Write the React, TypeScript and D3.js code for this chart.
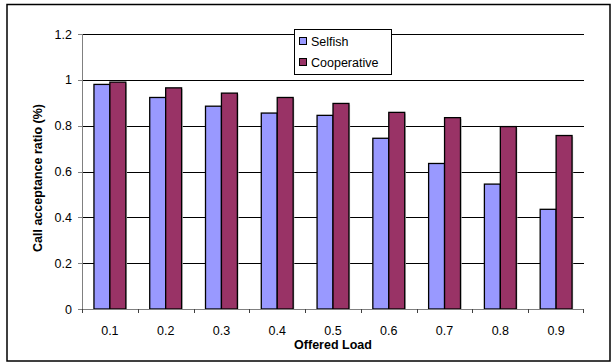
import React from "react";
import * as d3 from "d3";

const loads = ["0.1", "0.2", "0.3", "0.4", "0.5", "0.6", "0.7", "0.8", "0.9"];
const selfish = [0.98, 0.923, 0.885, 0.855, 0.845, 0.745, 0.635, 0.545, 0.435];
const cooperative = [0.99, 0.965, 0.942, 0.923, 0.897, 0.858, 0.835, 0.796, 0.757];
const yTicks = [0, 0.2, 0.4, 0.6, 0.8, 1, 1.2];
const seriesNames = ["Selfish", "Cooperative"];
const seriesColors = ["#9999FF", "#993366"];

const W = 613;
const H = 363;
const left = 82;
const right = 584;
const top = 34;
const bottom = 309;
const font = "'Liberation Sans', Arial, sans-serif";

export default function App() {
  const x = d3.scaleBand<string>().domain(loads).range([left, right]).paddingInner(0).paddingOuter(0);
  const inner = d3.scaleBand<string>().domain(seriesNames).range([0, x.bandwidth()]).paddingInner(0).paddingOuter(0.75);
  const y = d3.scaleLinear().domain([0, 1.2]).range([bottom, top]);
  const series = [selfish, cooperative];

  return (
    <svg width={W} height={H} style={{ position: "absolute", left: 0, top: 0, background: "#fff" }}>
      <rect x={7} y={4.5} width={603} height={356.5} fill="#fff" stroke="#000" strokeWidth={1.5} />
      {/* gridlines */}
      {yTicks.filter((t) => t > 0).map((t) => (
        <line key={t} x1={left} x2={right} y1={Math.round(y(t)) + 0.5} y2={Math.round(y(t)) + 0.5} stroke="#000" strokeWidth={1} />
      ))}
      {/* y axis */}
      <line x1={left + 0.5} x2={left + 0.5} y1={top} y2={bottom} stroke="#808080" strokeWidth={1} />
      {yTicks.map((t) => (
        <g key={t}>
          <line x1={left - 4} x2={left} y1={Math.round(y(t)) + 0.5} y2={Math.round(y(t)) + 0.5} stroke="#808080" />
          <text x={left - 10} y={y(t) + 4.5} textAnchor="end" fontFamily={font} fontSize={12.5} fill="#000">
            {String(t)}
          </text>
        </g>
      ))}
      {/* bars */}
      {loads.map((l, i) =>
        series.map((s, k) => {
          const bx = (x(l) as number) + (inner(seriesNames[k]) as number);
          const by = y(s[i]);
          const bw = inner.bandwidth();
          return (
            <g key={l + k}>
              <rect x={bx + 1.2} y={by + 1.2} width={bw} height={bottom - by - 1} fill="#c8c8c8" />
              <rect x={bx} y={by} width={bw} height={bottom - by} fill={seriesColors[k]} stroke="#000" strokeWidth={1.3} />
            </g>
          );
        })
      )}
      {/* x axis */}
      <line x1={left} x2={right} y1={bottom + 0.5} y2={bottom + 0.5} stroke="#808080" strokeWidth={1} />
      {loads.map((l, i) => (
        <line key={"t" + i} x1={Math.round(x(l) as number) + 0.5} x2={Math.round(x(l) as number) + 0.5} y1={bottom} y2={bottom + 4} stroke="#404040" />
      ))}
      <line x1={right - 0.5} x2={right - 0.5} y1={bottom} y2={bottom + 4} stroke="#404040" />
      {loads.map((l) => (
        <text key={"l" + l} x={(x(l) as number) + x.bandwidth() / 2} y={335} textAnchor="middle" fontFamily={font} fontSize={12.5} fill="#000">
          {l}
        </text>
      ))}
      <text x={(left + right) / 2} y={348.5} textAnchor="middle" fontFamily={font} fontSize={12.5} fontWeight="bold" fill="#000">
        Offered Load
      </text>
      <text transform={`translate(42,178) rotate(-90)`} textAnchor="middle" fontFamily={font} fontSize={12.5} fontWeight="bold" fill="#000">
        Call acceptance ratio (%)
      </text>
      {/* legend */}
      <rect x={294.5} y={29.5} width={97} height={45} fill="#fff" stroke="#000" strokeWidth={1} />
      {seriesNames.map((n, k) => (
        <g key={n}>
          <rect x={299.5} y={37.5 + k * 21} width={7} height={7} fill={seriesColors[k]} stroke="#000" strokeWidth={1} />
          <text x={311} y={45.5 + k * 21} fontFamily={font} fontSize={12.5} fill="#000">
            {n}
          </text>
        </g>
      ))}
    </svg>
  );
}
